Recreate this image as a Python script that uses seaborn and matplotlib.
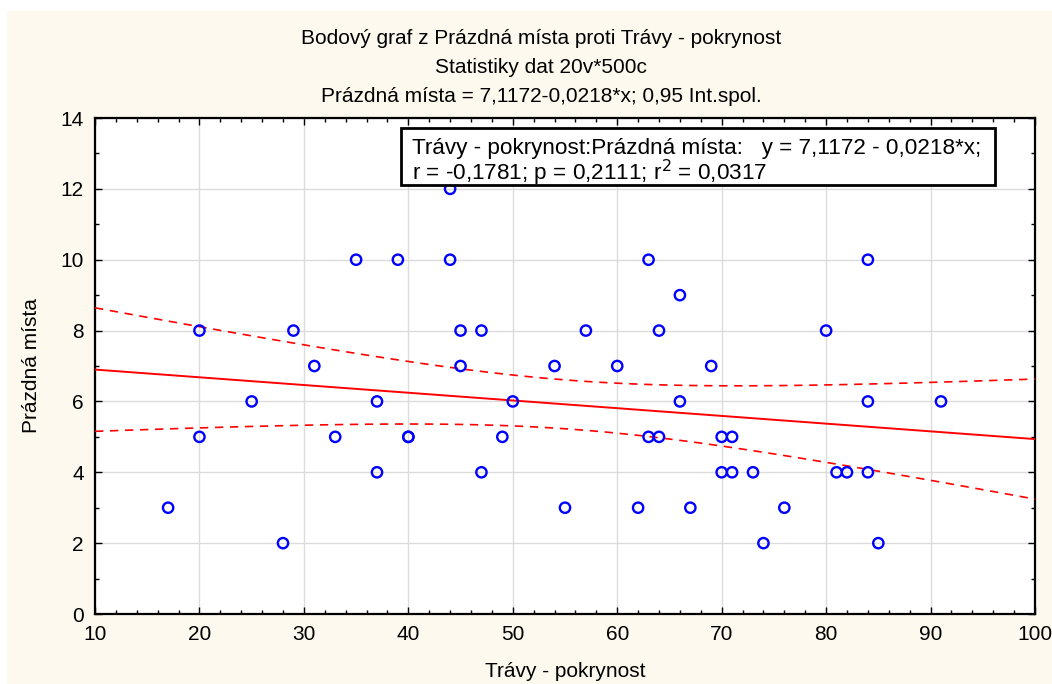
import numpy as np
import pandas as pd
import matplotlib
matplotlib.use("Agg")
import matplotlib.pyplot as plt
import seaborn as sns
from matplotlib.ticker import MultipleLocator
from matplotlib.patches import Rectangle

# Data
travy_pokryvnost = [17, 20, 20, 25, 28, 29, 31, 33, 35, 37, 37, 39, 40, 40, 44, 44, 45, 45, 47, 47,
                    49, 50, 54, 55, 57, 60, 62, 63, 63, 64, 64, 66, 66, 67, 69, 70, 70, 71, 71, 73,
                    74, 76, 80, 81, 82, 84, 84, 84, 85, 91]
prazdna_mista = [3, 8, 5, 6, 2, 8, 7, 5, 10, 6, 4, 10, 5, 5, 12, 10, 8, 7, 8, 4,
                 5, 6, 7, 3, 8, 7, 3, 10, 5, 5, 8, 9, 6, 3, 7, 5, 4, 5, 4, 4,
                 2, 3, 8, 4, 4, 4, 10, 6, 2, 6]
intercept = 7.1172
slope = -0.0218
x_ticks = [10, 20, 30, 40, 50, 60, 70, 80, 90, 100]
y_ticks = [0, 2, 4, 6, 8, 10, 12, 14]

title_lines = ["Bodový graf z Prázdná místa proti Trávy - pokrynost",
               "Statistiky dat 20v*500c",
               "Prázdná místa = 7,1172-0,0218*x; 0,95 Int.spol."]
legend_lines = ["Trávy - pokrynost:Prázdná místa:   y = 7,1172 - 0,0218*x;",
                "r = -0,1781; p = 0,2111; r$^2$ = 0,0317"]

df = pd.DataFrame({"x": travy_pokryvnost, "y": prazdna_mista})

# regression line and 95% confidence band for the mean
xs = np.linspace(10, 100, 91)
yhat = intercept + slope * xs
x_arr = np.array(travy_pokryvnost, float)
y_arr = np.array(prazdna_mista, float)
n = len(x_arr)
resid = y_arr - (intercept + slope * x_arr)
s = np.sqrt(np.sum(resid ** 2) / (n - 2))
sxx = np.sum((x_arr - x_arr.mean()) ** 2)
tval = 2.0106
half = tval * s * np.sqrt(1.0 / n + (xs - x_arr.mean()) ** 2 / sxx)
band = pd.DataFrame({"x": xs, "fit": yhat, "lo": yhat - half, "hi": yhat + half})

cream = "#FDF9EE"
sns.set_theme(style="white")
plt.rcParams['font.family'] = ['Liberation Sans', 'DejaVu Sans']
plt.rcParams['text.color'] = 'black'
plt.rcParams['axes.labelcolor'] = 'black'
plt.rcParams['xtick.color'] = 'black'
plt.rcParams['ytick.color'] = 'black'

fig = plt.figure(figsize=(10.52, 6.84), dpi=100, facecolor="white")
# cream panel
bg = fig.add_axes([7 / 1052, 0, 1 - 7 / 1052, 1 - 11 / 684], zorder=-10)
bg.set_facecolor(cream)
bg.set_xticks([]); bg.set_yticks([])
for sp in bg.spines.values():
    sp.set_visible(False)

ax = fig.add_axes([95 / 1052, 70 / 684, 940 / 1052, 496 / 684])
ax.set_facecolor("white")

sns.lineplot(data=band, x="x", y="fit", ax=ax, color="#FF0000", lw=1.4, zorder=3)
sns.lineplot(data=band, x="x", y="hi", ax=ax, color="#FF0000", lw=1.2, ls=(0, (5, 4)), zorder=3)
sns.lineplot(data=band, x="x", y="lo", ax=ax, color="#FF0000", lw=1.2, ls=(0, (5, 4)), zorder=3)
sns.scatterplot(data=df, x="x", y="y", ax=ax, marker="o", s=55,
                facecolor="none", edgecolor="#0000FF", linewidth=1.7, zorder=4)

ax.set_xlim(10, 100)
ax.set_ylim(0, 14)
ax.set_xticks(x_ticks)
ax.set_yticks(y_ticks)
ax.xaxis.set_minor_locator(MultipleLocator(2))
ax.yaxis.set_minor_locator(MultipleLocator(1))
ax.grid(True, which="major", color="#DCDCDC", lw=1.0)
ax.set_axisbelow(True)
ax.tick_params(which="both", direction="in", top=True, right=True, bottom=True, left=True,
               color="black")
ax.tick_params(which="major", length=5, width=1, labelsize=15, pad=8, labelcolor="black")
ax.tick_params(which="minor", length=3, width=1)
for sp in ax.spines.values():
    sp.set_color("black")
    sp.set_linewidth(1.6)

ax.set_xlabel("Trávy - pokrynost", fontsize=15, labelpad=13, color="black")
ax.set_ylabel("Prázdná místa", fontsize=15, labelpad=14, color="black")

for i, line in enumerate(title_lines):
    fig.text(541 / 1052, 1 - (38 + 29.5 * i) / 684, line, ha="center", va="center",
             fontsize=15, color="black")

# statistics box
box = Rectangle((0.3255, 0.8649), 0.9574 - 0.3255, 0.9798 - 0.8649, transform=ax.transAxes,
                facecolor="white", edgecolor="black", lw=2, zorder=6)
ax.add_patch(box)
ax.text(0.3372, 0.9385, legend_lines[0], transform=ax.transAxes, ha="left", va="center",
        fontsize=16.2, color="black", zorder=7)
ax.text(0.3372, 0.8891, legend_lines[1], transform=ax.transAxes, ha="left", va="center",
        fontsize=16.2, color="black", zorder=7)

fig.savefig("out.png", dpi=100, facecolor=fig.get_facecolor())
